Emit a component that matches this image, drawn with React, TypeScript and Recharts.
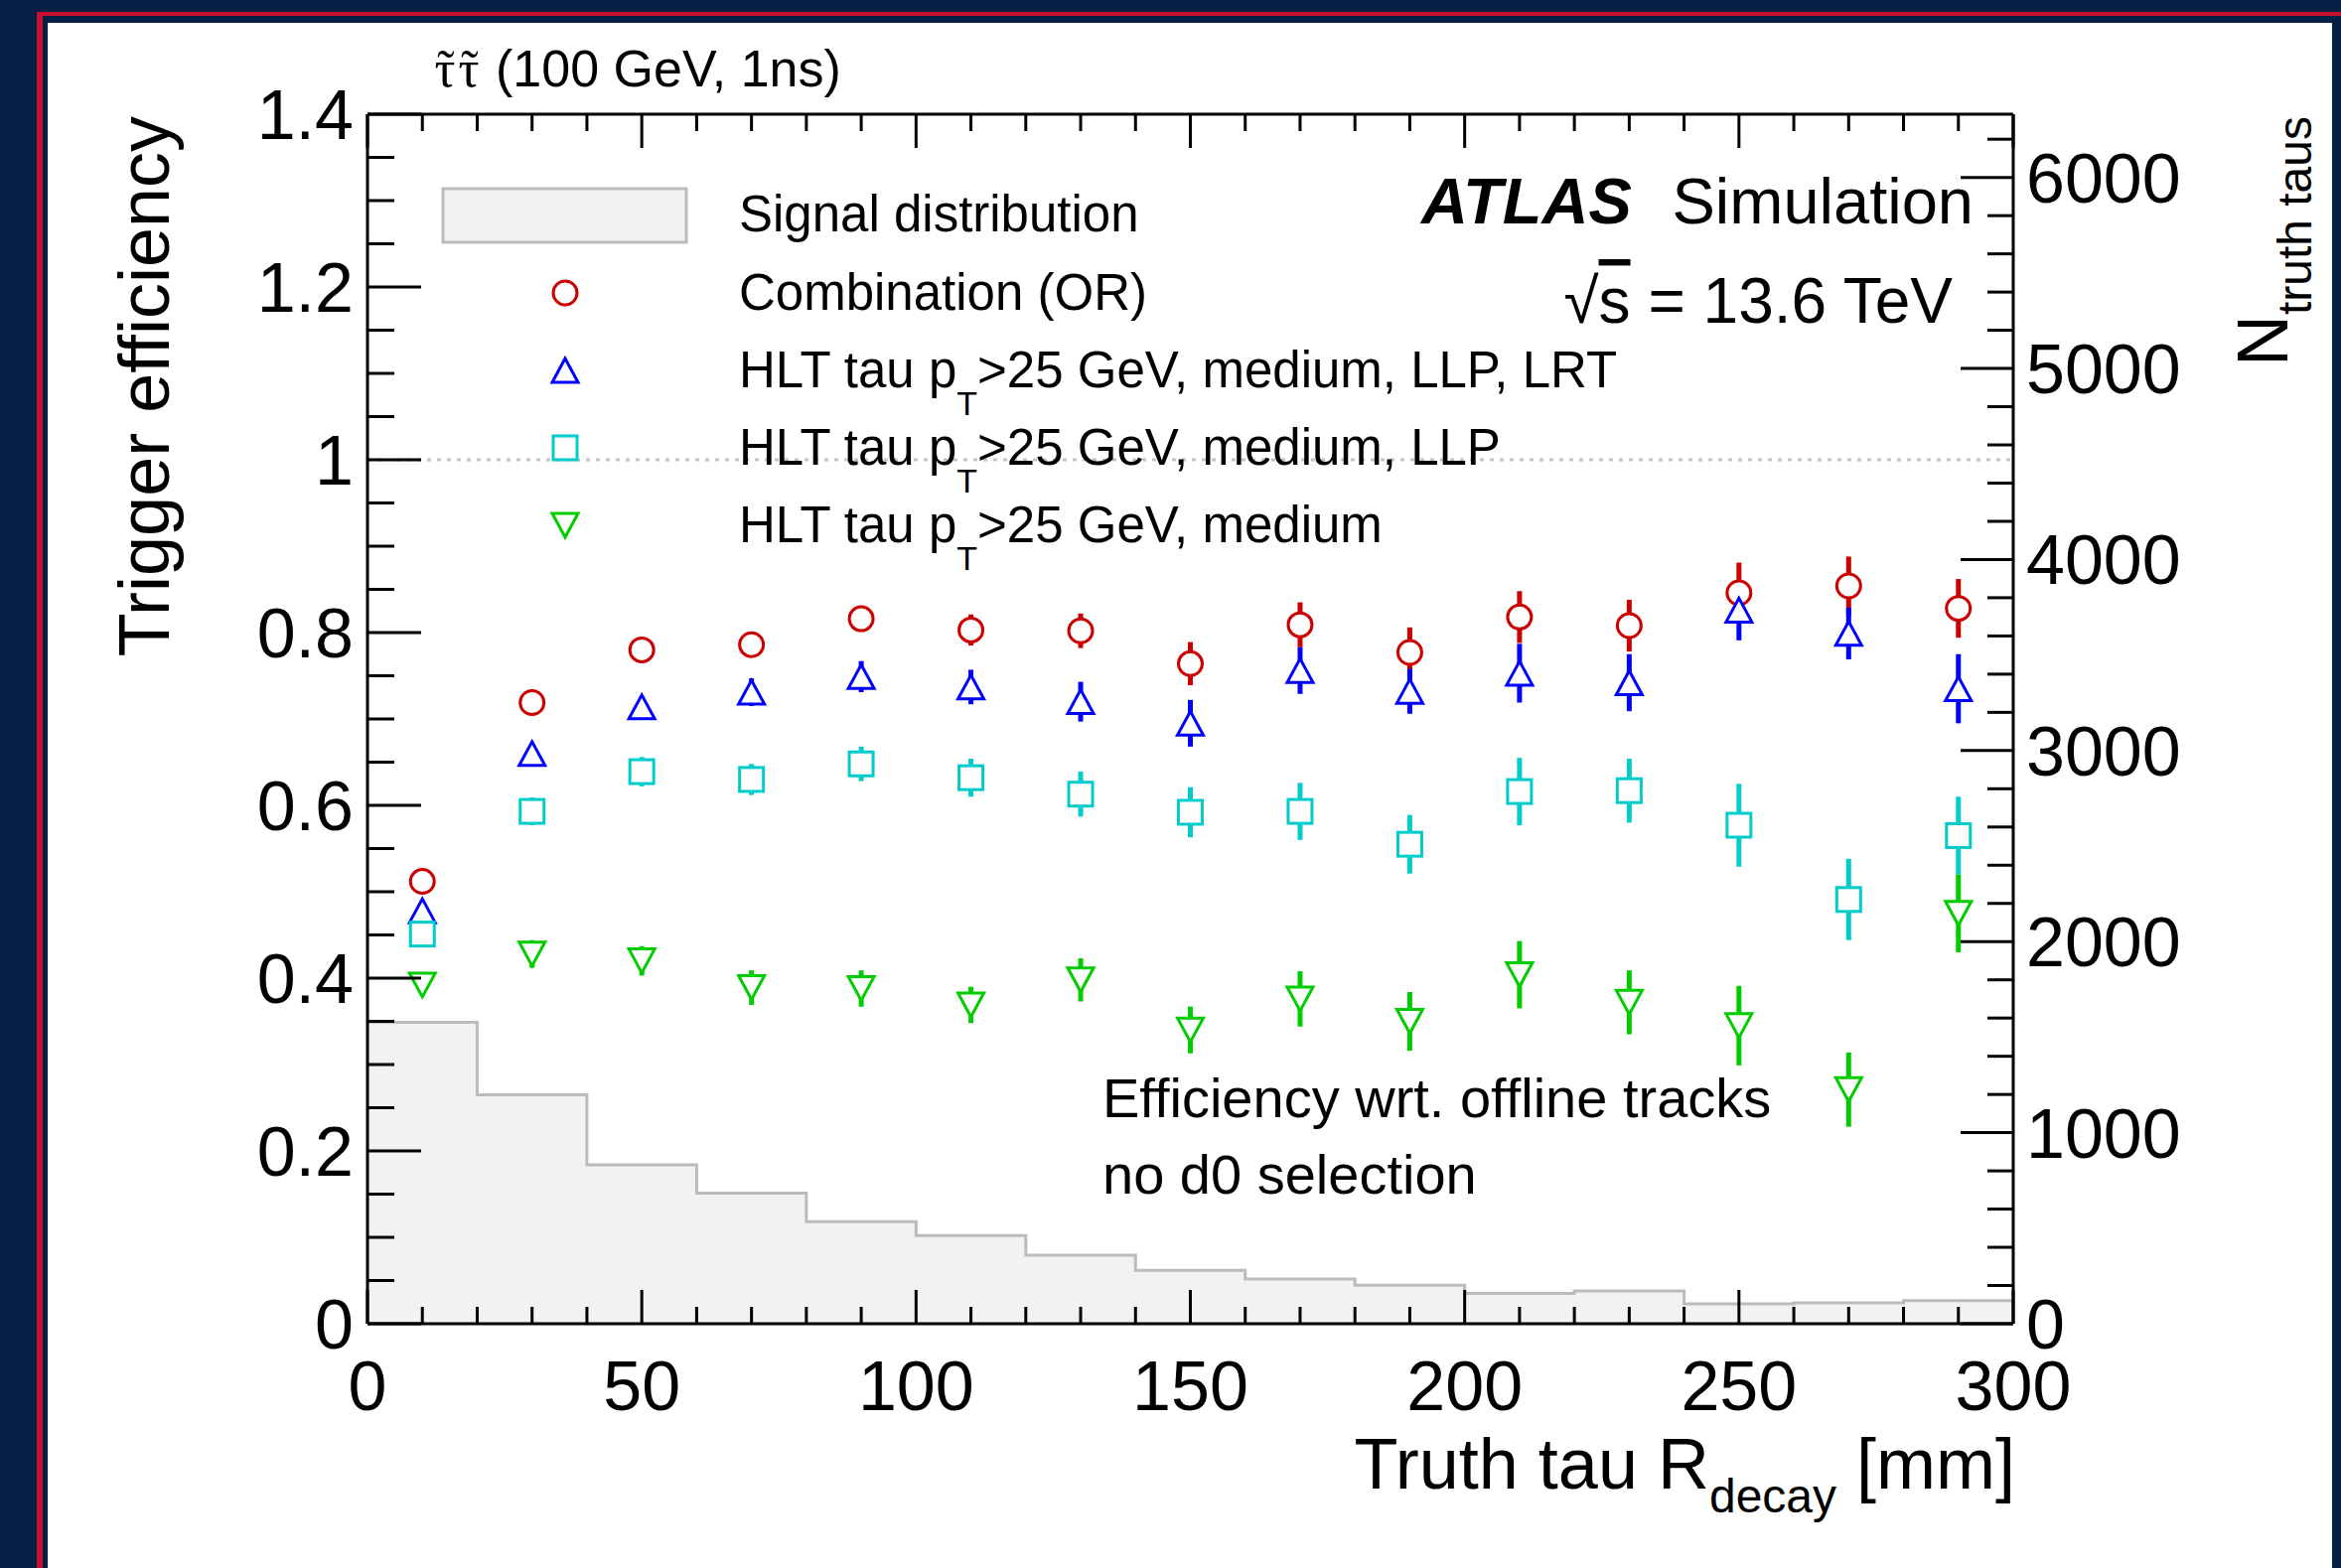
import React from "react";
import { ComposedChart, Area, Scatter, ErrorBar, XAxis, YAxis, ReferenceLine, Legend } from "recharts";

const NAVY = "#061f45";
const FRAME_RED = "#c8102e";
const RED = "#cc0000";
const BLUE = "#0000ff";
const CYAN = "#00cccc";
const GREEN = "#00cc00";
const FONT = '"Liberation Sans", Arial, Helvetica, sans-serif';
const SERIF = '"Liberation Serif", "DejaVu Serif", serif';

// bin centres of the efficiency points [mm]
const binCentres = [10, 30, 50, 70, 90, 110, 130, 150, 170, 190, 210, 230, 250, 270, 290];

const effCombination = [0.512, 0.719, 0.78, 0.786, 0.816, 0.803, 0.802, 0.764, 0.809, 0.777, 0.818, 0.808, 0.846, 0.854, 0.828];
const errCombination = [0.006, 0.008, 0.01, 0.011, 0.013, 0.018, 0.02, 0.025, 0.026, 0.029, 0.03, 0.03, 0.035, 0.034, 0.034];

const effLlpLrt = [0.478, 0.66, 0.714, 0.731, 0.749, 0.737, 0.72, 0.695, 0.756, 0.732, 0.753, 0.742, 0.826, 0.799, 0.735];
const errLlpLrt = [0.006, 0.009, 0.012, 0.016, 0.018, 0.02, 0.023, 0.027, 0.027, 0.026, 0.034, 0.033, 0.035, 0.03, 0.04];

const effLlp = [0.451, 0.593, 0.639, 0.63, 0.648, 0.632, 0.613, 0.592, 0.593, 0.555, 0.616, 0.617, 0.577, 0.491, 0.565];
const errLlp = [0.012, 0.016, 0.017, 0.018, 0.02, 0.022, 0.026, 0.029, 0.033, 0.034, 0.039, 0.037, 0.048, 0.047, 0.045];

const effMedium = [0.392, 0.428, 0.42, 0.389, 0.388, 0.369, 0.398, 0.34, 0.376, 0.35, 0.404, 0.372, 0.345, 0.271, 0.475];
const errMedium = [0.012, 0.016, 0.017, 0.02, 0.021, 0.021, 0.025, 0.027, 0.032, 0.034, 0.039, 0.037, 0.046, 0.043, 0.045];

// signal distribution histogram (20 mm bins)
const histEdges = [0, 20, 40, 60, 80, 100, 120, 140, 160, 180, 200, 220, 240, 260, 280, 300];
const histCounts = [1578, 1198, 832, 683, 534, 461, 359, 280, 234, 201, 158, 171, 104, 109, 121];

const xTicks = [0, 10, 20, 30, 40, 50, 60, 70, 80, 90, 100, 110, 120, 130, 140, 150, 160, 170, 180, 190, 200, 210, 220, 230, 240, 250, 260, 270, 280, 290, 300];
const xLabels = [0, 50, 100, 150, 200, 250, 300];
const effTicks = [0, 0.05, 0.1, 0.15, 0.2, 0.25, 0.3, 0.35, 0.4, 0.45, 0.5, 0.55, 0.6, 0.65, 0.7, 0.75, 0.8, 0.85, 0.9, 0.95, 1, 1.05, 1.1, 1.15, 1.2, 1.25, 1.3, 1.35, 1.4];
const effLabels = [0, 0.2, 0.4, 0.6, 0.8, 1, 1.2, 1.4];
const nTicks = [0, 200, 400, 600, 800, 1000, 1200, 1400, 1600, 1800, 2000, 2200, 2400, 2600, 2800, 3000, 3200, 3400, 3600, 3800, 4000, 4200, 4400, 4600, 4800, 5000, 5200, 5400, 5600, 5800, 6000, 6200];
const nLabels = [0, 1000, 2000, 3000, 4000, 5000, 6000];
const N_MAX = 6331;

const histData = histEdges.map((x, i) => ({ x, n: histCounts[Math.min(i, histCounts.length - 1)] }));
const points = (eff: number[], err: number[]) => binCentres.map((x, i) => ({ x, eff: eff[i], err: err[i] }));

const SERIES = [
  { key: "comb", color: RED, shape: "circle", eff: effCombination, err: errCombination, label: ["Combination (OR)"] },
  { key: "llplrt", color: BLUE, shape: "up", eff: effLlpLrt, err: errLlpLrt, label: ["HLT tau p", "T", ">25 GeV, medium, LLP, LRT"] },
  { key: "llp", color: CYAN, shape: "square", eff: effLlp, err: errLlp, label: ["HLT tau p", "T", ">25 GeV, medium, LLP"] },
  { key: "medium", color: GREEN, shape: "down", eff: effMedium, err: errMedium, label: ["HLT tau p", "T", ">25 GeV, medium"] },
];

function MarkerShape({ kind, cx, cy, color }: { kind: string; cx: number; cy: number; color: string }) {
  const r = 12;
  const st = { fill: "#ffffff", stroke: color, strokeWidth: 3 };
  if (kind === "circle") return <circle cx={cx} cy={cy} r={r} {...st} />;
  if (kind === "square") return <rect x={cx - r} y={cy - r} width={2 * r} height={2 * r} {...st} />;
  if (kind === "up") return <polygon points={`${cx - 13},${cy + r} ${cx + 13},${cy + r} ${cx},${cy - r}`} {...st} />;
  return <polygon points={`${cx - 13},${cy - r} ${cx + 13},${cy - r} ${cx},${cy + r}`} {...st} />;
}

const BottomTick = (p: any) => {
  const v = p.payload.value;
  const major = xLabels.includes(v);
  return (
    <g>
      <line x1={p.x} x2={p.x} y1={p.y} y2={p.y - (major ? 34 : 17)} stroke="#000" strokeWidth={3} />
      {major && (
        <text x={p.x} y={p.y + 87} textAnchor="middle" fontSize={70} fontFamily={FONT} fill="#000">
          {v}
        </text>
      )}
    </g>
  );
};

const TopTick = (p: any) => {
  const major = xLabels.includes(p.payload.value);
  return <line x1={p.x} x2={p.x} y1={p.y} y2={p.y + (major ? 34 : 17)} stroke="#000" strokeWidth={3} />;
};

const LeftTick = (p: any) => {
  const v = p.payload.value;
  const major = effLabels.includes(v);
  return (
    <g>
      <line x1={p.x} x2={p.x + (major ? 54 : 27)} y1={p.y} y2={p.y} stroke="#000" strokeWidth={3} />
      {major && (
        <text x={p.x - 14} y={p.y + 25} textAnchor="end" fontSize={70} fontFamily={FONT} fill="#000">
          {String(v)}
        </text>
      )}
    </g>
  );
};

const RightTick = (p: any) => {
  const v = p.payload.value;
  const major = nLabels.includes(v);
  return (
    <g>
      <line x1={p.x} x2={p.x - (major ? 53 : 26)} y1={p.y} y2={p.y} stroke="#000" strokeWidth={3} />
      {major && (
        <text x={p.x + 13} y={p.y + 25} textAnchor="start" fontSize={70} fontFamily={FONT} fill="#000">
          {v}
        </text>
      )}
    </g>
  );
};

const LegendContent = () => (
  <svg width={1800} height={600} style={{ display: "block" }} fontFamily={FONT}>
    <rect x={446} y={190} width={245} height={54} fill="#f2f2f2" stroke="#bbbbbb" strokeWidth={3} />
    <text x={744} y={233} fontSize={51} fill="#000">Signal distribution</text>
    {SERIES.map((s, i) => (
      <g key={s.key}>
        <MarkerShape kind={s.shape} cx={569} cy={295 + 78 * i} color={s.color} />
        <text x={744} y={312 + 78 * i} fontSize={51} fill="#000">
          {s.label[0]}
          {s.label.length > 1 && (
            <>
              <tspan dy={28} fontSize={34}>{s.label[1]}</tspan>
              <tspan dy={-28}>{s.label[2]}</tspan>
            </>
          )}
        </text>
      </g>
    ))}
  </svg>
);

export default function App() {
  return (
    <div style={{ position: "absolute", left: 0, top: 0, width: 2357, height: 1579, background: NAVY, overflow: "hidden" }}>
      <div style={{ position: "absolute", left: 37, top: 12, width: 2320, height: 4, background: FRAME_RED }} />
      <div style={{ position: "absolute", left: 37, top: 12, width: 6, height: 1567, background: FRAME_RED }} />
      <div style={{ position: "absolute", left: 48, top: 23, width: 2300, height: 1556, background: "#ffffff" }} />
      <div style={{ position: "absolute", left: 0, top: 0 }}>
        <ComposedChart
          width={2357}
          height={1579}
          data={histData}
          margin={{ top: 114, right: 230, bottom: 146, left: 270 }}
        >
          <Area
            type="stepAfter"
            dataKey="n"
            yAxisId="n"
            fill="#f2f2f2"
            fillOpacity={1}
            stroke="#bbbbbb"
            strokeWidth={3}
            dot={false}
            activeDot={false}
            isAnimationActive={false}
          />
          <ReferenceLine y={1} yAxisId="eff" stroke="#c4c4c4" strokeWidth={3} strokeDasharray="4 6" />
          {SERIES.map((s) => (
            <Scatter
              key={s.key}
              data={points(s.eff, s.err)}
              dataKey="eff"
              yAxisId="eff"
              isAnimationActive={false}
              shape={(p: any) => <MarkerShape kind={s.shape} cx={p.cx} cy={p.cy} color={s.color} />}
            >
              <ErrorBar dataKey="err" direction="y" width={0} stroke={s.color} strokeWidth={5} isAnimationActive={false} />
            </Scatter>
          ))}
          <XAxis
            dataKey="x"
            type="number"
            domain={[0, 300]}
            allowDataOverflow
            ticks={xTicks}
            interval={0}
            height={100}
            tickSize={0}
            tickMargin={0}
            tickLine={false}
            axisLine={{ stroke: "#000", strokeWidth: 3 }}
            tick={BottomTick}
          />
          <XAxis
            xAxisId="top"
            orientation="top"
            dataKey="x"
            type="number"
            domain={[0, 300]}
            allowDataOverflow
            ticks={xTicks}
            interval={0}
            height={1}
            tickSize={0}
            tickMargin={0}
            tickLine={false}
            axisLine={{ stroke: "#000", strokeWidth: 3 }}
            tick={TopTick}
          />
          <YAxis
            yAxisId="eff"
            type="number"
            domain={[0, 1.4]}
            allowDataOverflow
            ticks={effTicks}
            interval={0}
            width={100}
            tickSize={0}
            tickMargin={0}
            tickLine={false}
            axisLine={{ stroke: "#000", strokeWidth: 3 }}
            tick={LeftTick}
          />
          <YAxis
            yAxisId="n"
            orientation="right"
            type="number"
            domain={[0, N_MAX]}
            allowDataOverflow
            ticks={nTicks}
            interval={0}
            width={100}
            tickSize={0}
            tickMargin={0}
            tickLine={false}
            axisLine={{ stroke: "#000", strokeWidth: 3 }}
            tick={RightTick}
          />
          <Legend
            layout="vertical"
            align="center"
            verticalAlign="middle"
            content={LegendContent}
            wrapperStyle={{ left: 0, top: 0, width: 1800, height: 600 }}
          />
        </ComposedChart>
      </div>
      <svg
        width={2357}
        height={1579}
        style={{ position: "absolute", left: 0, top: 0, pointerEvents: "none" }}
        fontFamily={FONT}
      >
        <text x={448} y={87} fontSize={52} fontFamily={SERIF} textAnchor="middle" fill="#000">τ</text>
        <text x={449} y={87} fontSize={52} fontFamily={SERIF} textAnchor="middle" fill="#000">˜</text>
        <text x={472} y={87} fontSize={52} fontFamily={SERIF} textAnchor="middle" fill="#000">τ</text>
        <text x={473} y={87} fontSize={52} fontFamily={SERIF} textAnchor="middle" fill="#000">˜</text>
        <text x={499} y={87} fontSize={52} fill="#000">(100 GeV, 1ns)</text>
        <text x={1431} y={225} fontSize={65} fontWeight="bold" fontStyle="italic" fill="#000">ATLAS</text>
        <text x={1987} y={225} fontSize={65} textAnchor="end" fill="#000">Simulation</text>
        <text x={1966} y={325} fontSize={64} textAnchor="end" fill="#000">
          √<tspan style={{ textDecoration: "overline" }}>s</tspan> = 13.6 TeV
        </text>
        <text x={1110} y={1125} fontSize={56} fill="#000">Efficiency wrt. offline tracks</text>
        <text x={1110} y={1202} fontSize={56} fill="#000">no d0 selection</text>
        <text x={2029} y={1499} fontSize={72} textAnchor="end" fill="#000">
          Truth tau R<tspan dy={24} fontSize={48}>decay</tspan>
          <tspan dy={-24}> [mm]</tspan>
        </text>
        <text x={170} y={117} fontSize={72} textAnchor="end" transform="rotate(-90, 170, 117)" fill="#000">
          Trigger efficiency
        </text>
        <text x={2303} y={117} fontSize={72} textAnchor="end" transform="rotate(-90, 2303, 117)" fill="#000">
          N<tspan dy={24} fontSize={48}>truth taus</tspan>
        </text>
      </svg>
    </div>
  );
}
